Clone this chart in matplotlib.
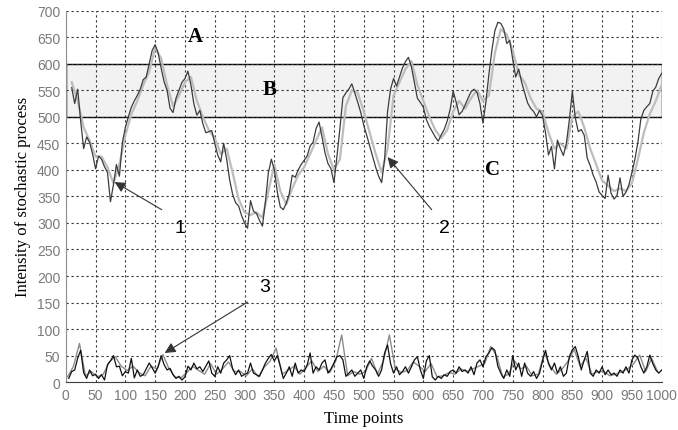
import matplotlib
matplotlib.use("Agg")
import matplotlib.pyplot as plt
import numpy as np

# main process (dark trace), every 5 time points from t=10
dark_t = np.arange(10, 1001, 5)
dark_vals = [555, 525, 552, 492, 440, 462, 452, 430, 402, 426, 420, 406, 395, 340, 372, 410, 388, 452, 480,
             500, 518, 530, 540, 552, 570, 575, 600, 625, 636, 620, 592, 566, 550, 516, 508, 535, 550, 565, 572,
             586, 560, 524, 503, 512, 487, 470, 472, 474, 450, 428, 415, 450, 420, 381, 354, 338, 332, 314, 300,
             290, 342, 322, 318, 305, 294, 340, 395, 420, 400, 358, 330, 325, 337, 355, 390, 386, 400, 410, 418,
             426, 445, 452, 478, 490, 462, 432, 412, 402, 376, 425, 478, 536, 545, 552, 562, 545, 527, 508, 484,
             465, 445, 425, 405, 388, 376, 420, 510, 552, 572, 558, 575, 592, 604, 612, 594, 565, 535, 527, 518,
             495, 482, 472, 462, 454, 466, 476, 492, 514, 548, 528, 504, 510, 522, 535, 547, 552, 546, 525, 488,
             528, 580, 625, 662, 678, 676, 665, 638, 644, 608, 575, 590, 565, 545, 526, 516, 510, 500, 512, 502,
             470, 428, 444, 402, 456, 440, 427, 450, 494, 548, 498, 472, 476, 465, 422, 408, 390, 377, 358, 352,
             346, 390, 356, 345, 352, 385, 350, 358, 372, 395, 420, 452, 496, 512, 519, 525, 548, 556, 572, 582]

# estimate of the process (light trace), every 10 time points
light_t = np.arange(10, 1001, 10)
light_vals = [565, 530, 480, 455, 425, 425, 405, 375, 410, 465,
              505, 530, 560, 585, 630, 610, 560, 520, 540, 565,
              575, 530, 500, 475, 460, 430, 440, 395, 345, 320,
              315, 320, 310, 360, 410, 360, 335, 365, 390, 405,
              430, 455, 480, 430, 400, 420, 520, 550, 545, 510,
              470, 430, 395, 440, 540, 565, 590, 605, 560, 530,
              500, 475, 460, 475, 510, 530, 515, 535, 550, 530,
              540, 620, 665, 655, 625, 580, 565, 535, 515, 510,
              470, 440, 450, 440, 500, 510, 480, 440, 410, 380,
              370, 360, 365, 360, 375, 420, 470, 505, 530, 560]

# error signal (curve 3)
err_t = np.arange(5, 1001, 5)
err_black = [7, 20, 23, 45, 60, 18, 7, 23, 12, 15, 7, 14, 4, 33, 40, 50, 29, 30, 12, 20,
             17, 45, 8, 23, 11, 14, 25, 36, 27, 17, 29, 50, 33, 23, 26, 14, 7, 11, 4, 10,
             30, 23, 36, 25, 29, 20, 30, 40, 17, 11, 29, 17, 36, 42, 50, 25, 14, 23, 11, 15,
             17, 36, 17, 14, 11, 23, 36, 45, 52, 40, 50, 30, 7, 17, 29, 11, 36, 17, 23, 20,
             32, 55, 17, 29, 23, 36, 42, 17, 25, 36, 48, 50, 42, 11, 17, 23, 11, 17, 23, 7,
             29, 40, 30, 23, 11, 23, 55, 70, 35, 17, 29, 14, 20, 29, 17, 29, 42, 48, 23, 7,
             40, 50, 10, 4, 11, 7, 14, 11, 20, 23, 17, 29, 20, 23, 17, 29, 14, 36, 42, 29,
             48, 55, 65, 60, 30, 17, 7, 23, 11, 50, 23, 36, 11, 36, 17, 11, 20, 7, 17, 40,
             60, 35, 23, 36, 17, 29, 11, 17, 48, 61, 67, 48, 23, 42, 58, 17, 11, 23, 17, 29,
             14, 23, 14, 17, 11, 23, 17, 29, 17, 42, 51, 45, 29, 17, 29, 51, 35, 23, 17, 23]
err_gray_t = np.arange(3, 1000, 10)
err_gray = [10, 30, 73, 12, 20, 10, 15, 38, 48, 30,
            22, 30, 18, 12, 30, 25, 52, 26, 10, 8,
            18, 30, 22, 15, 35, 15, 25, 38, 20, 20,
            12, 25, 10, 28, 40, 64, 15, 22, 30, 15,
            28, 40, 20, 30, 18, 40, 89, 12, 20, 15,
            20, 45, 15, 40, 89, 25, 18, 22, 38, 30,
            20, 35, 10, 12, 18, 15, 25, 20, 25, 30,
            35, 67, 50, 10, 15, 40, 25, 30, 12, 15,
            55, 30, 15, 25, 40, 62, 30, 45, 15, 20,
            20, 12, 15, 20, 25, 35, 51, 20, 45, 20]

fig = plt.figure(figsize=(6.78, 4.31), dpi=100)
ax = fig.add_axes([0.097, 0.111, 0.879, 0.862])

# band B
ax.axhspan(500, 600, facecolor="#f2f2f2", edgecolor="black", lw=1.0, zorder=1)

ax.plot(light_t, light_vals, color="#bdbdbd", lw=1.6, zorder=2)
ax.plot(dark_t, dark_vals, color="#3c3c3c", lw=0.9, zorder=3)
ax.plot(err_gray_t, err_gray, color="#8c8c8c", lw=1.0, zorder=2)
ax.plot(err_t, err_black, color="#111111", lw=0.9, zorder=3)

ax.set_xlim(0, 1000)
ax.set_ylim(0, 700)
ax.set_xticks(np.arange(0, 1001, 50))
ax.set_yticks(np.arange(0, 701, 50))
ax.grid(True, color="#333333", linestyle=(0, (2, 2.5)), lw=0.8)
ax.tick_params(length=0, labelcolor="#7a7a7a", labelsize=10, pad=4)
for lbl in ax.get_xticklabels() + ax.get_yticklabels():
    lbl.set_family("Liberation Sans")
ax.spines["top"].set_visible(False)
ax.spines["right"].set_visible(False)
ax.spines["left"].set_color("#909090")
ax.spines["bottom"].set_color("#404040")

ax.set_xlabel("Time points", family="Liberation Serif", fontsize=12, labelpad=6)
ax.set_ylabel("Intensity of stochastic process", family="Liberation Serif", fontsize=12, labelpad=4)

serif_bold = dict(family="Liberation Serif", fontsize=15, fontweight="bold", ha="center", va="center")
ax.text(218, 653, "A", **serif_bold)
ax.text(342, 553, "B", **serif_bold)
ax.text(716, 402, "C", **serif_bold)

num = dict(family="Liberation Sans", fontsize=14, ha="center", va="center")
ax.text(191, 292, "1", **num)
ax.text(636, 292, "2", **num)
ax.text(334, 180, "3", **num)

arrow = dict(arrowstyle="-|>", color="#333333", lw=0.8, mutation_scale=16, shrinkA=0, shrinkB=0)
ax.annotate("", xy=(82, 377), xytext=(161, 325), arrowprops=arrow)
ax.annotate("", xy=(540, 424), xytext=(614, 325), arrowprops=arrow)
ax.annotate("", xy=(166, 55), xytext=(305, 151), arrowprops=arrow)

fig.savefig("out.png", dpi=100)
